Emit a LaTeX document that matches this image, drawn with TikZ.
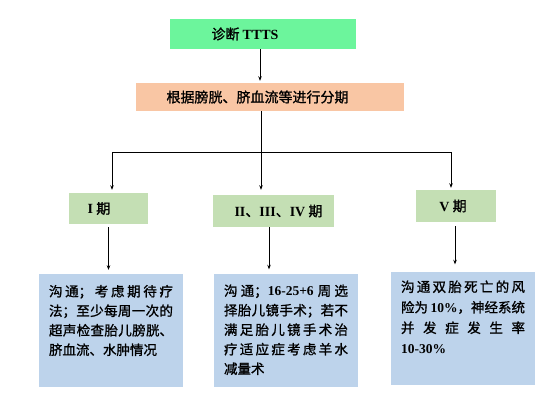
\documentclass[tikz,border=0pt]{standalone}
\usepackage{fontspec}
\setmainfont{Noto Sans CJK SC}[FakeBold=1.2]
\newfontfamily\lat{Liberation Serif}
\newcommand\la[1]{{\lat\bfseries #1}}
\usetikzlibrary{arrows.meta}
\XeTeXlinebreaklocale "zh"
\XeTeXlinebreakskip=0pt plus 5pt
\definecolor{topgreen}{HTML}{6CF59C}
\definecolor{peach}{HTML}{F9C6A4}
\definecolor{stgreen}{HTML}{C4DFB4}
\definecolor{noteblue}{HTML}{BDD3EB}
\newcommand\notetext[2]{\parbox[c][113pt][t]{124pt}{\fontsize{13.5pt}{#1}\selectfont\tolerance=10000 #2}}
\begin{document}
\begin{tikzpicture}[x=1pt,y=-1pt,
  box/.style={inner sep=0pt, font=\fontsize{14pt}{16pt}\selectfont},
  arr/.style={-{Stealth[length=4.5pt,width=3.5pt]}, line width=0.7pt},
  ln/.style={line width=0.7pt},
  note/.style={box, fill=noteblue, minimum width=144pt, minimum height=113pt}]
\useasboundingbox[fill=white] (0,0) rectangle (554,405);

\node[box, fill=topgreen, minimum width=186pt, minimum height=30pt] (top) at (263,34) {诊断 \la{TTTS}\hspace*{36pt}};
\node[box, fill=peach, minimum width=268pt, minimum height=28pt] (cls) at (270,97) {根据膀胱、脐血流等进行分期\hspace*{25pt}};

\node[box, fill=stgreen, minimum width=79pt, minimum height=31pt] (s1) at (108.5,208.5) {\la{I} 期\hspace*{19pt}};
\node[box, fill=stgreen, minimum width=121pt, minimum height=32pt] (s2) at (273.5,211) {\hspace*{10pt}\la{II}、\la{III}、\la{IV} 期};
\node[box, fill=stgreen, minimum width=80pt, minimum height=32pt] (s3) at (456,206) {\la{V} 期\hspace*{6pt}};

\node[note] (b1) at (111,330.5) {\notetext{19.5pt}{\vspace*{11pt}沟通；考虑期待疗\linebreak 法；至少每周一次的\linebreak 超声检查胎儿膀胱、\linebreak 脐血流、水肿情况}};
\node[note] (b2) at (286,330) {\notetext{19.5pt}{\vspace*{11pt}沟通；\la{16-25+6} 周选\linebreak 择胎儿镜手术；若不\linebreak 满足胎儿镜手术治\linebreak 疗适应症考虑羊水\linebreak 减量术}};
\node[note, minimum height=112pt] (b3) at (463,328) {\notetext{20.5pt}{\vspace*{9pt}沟通双胎死亡的风\linebreak 险为 \la{10\%}，神经系统\linebreak 并发症发生率\linebreak \la{10-30\%}}};

\coordinate (j) at (261,152);
\coordinate (jl) at (112,152);
\coordinate (jr) at (451,152);

\draw[arr, shorten >=2pt] ([xshift=-3pt]top.south) -- ([xshift=-3pt]top.south |- cls.north);
\draw[ln] (cls.south -| j) -- (j);
\draw[ln] (jl) -- (jr);
\draw[arr, shorten >=3pt] (jl) -- (jl |- s1.north);
\draw[arr, shorten >=5pt] (j) -- (j |- s2.north);
\draw[arr, shorten >=2pt] (jr) -- (jr |- s3.north);

\draw[arr, shorten <=3pt, shorten >=4pt] (s1.south) -- (s1.south |- b1.north);
\draw[arr, shorten >=4pt] ([xshift=-4.5pt]s2.south) -- ([xshift=-4.5pt]s2.south |- b2.north);
\draw[arr, shorten <=4pt, shorten >=7pt] ([xshift=-1pt]s3.south) -- ([xshift=-1pt]s3.south |- b3.north);
\end{tikzpicture}
\end{document}
